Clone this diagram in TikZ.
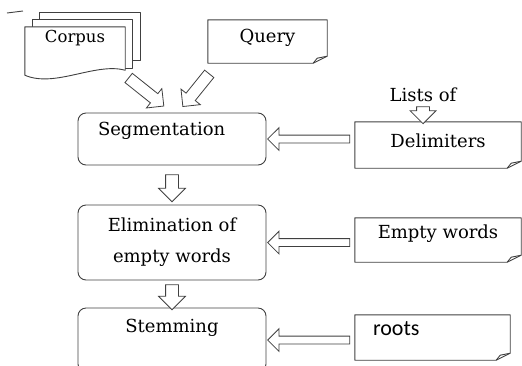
\documentclass[tikz,border=0pt]{standalone}
\usepackage{fontspec}
\setmainfont{DejaVu Serif}
\newfontfamily\rootsfont{Carlito}
\usetikzlibrary{shapes.arrows}

\newcommand{\docframe}[1]{%
  \draw[docline] (#1.north west) -- (#1.north east) -- ([yshift=7pt]#1.south east)
    -- ([xshift=-14pt]#1.south east) -- (#1.south west) -- cycle;
  \draw[docline] ([xshift=-14pt]#1.south east) -- ([xshift=-10pt,yshift=5pt]#1.south east)
    -- ([yshift=7pt]#1.south east);
}

\begin{document}
\begin{tikzpicture}[x=1pt, y=-1pt,
                    docline/.style={draw=black!75, line width=0.9pt, line join=round},
                    proc/.style={draw=black!75, line width=0.9pt, rounded corners=8pt, rectangle, minimum width=188pt, inner sep=0pt, font=\fontsize{18}{21}\selectfont},
                    doc/.style={rectangle, inner sep=0pt, font=\fontsize{18}{21}\selectfont},
                    hollow/.style={single arrow, draw=black!75, fill=white, line width=0.8pt, inner xsep=0pt, inner ysep=5.5pt, minimum width=24pt, single arrow head extend=6.5pt, sloped, allow upside down}]

	\useasboundingbox (0,0) rectangle (522,365);
	\clip (0,0) rectangle (522,365);

	\draw[docline] (7,13) -- (23,11);

	\node[doc, minimum width=100pt, minimum height=48pt, text height=12pt, text depth=30pt, font=\fontsize{16.5}{20}\selectfont] (corpus) at (75,51) {Corpus};

	\node[doc, minimum width=119pt, minimum height=43pt, text height=13pt, text depth=12pt] (query) at (267.5,41.5) {Query};

	\node[proc, minimum height=52pt, text width=148pt, inner xsep=20pt, align=left, text height=13pt, text depth=21pt] (seg) at (172,139) {Segmentation};

	\node[proc, minimum height=75pt, align=center] (elim) at (172,242.5) {Elimination of\\[10pt]empty words};

	\node[proc, minimum height=64pt, text height=13pt, text depth=29pt] (stem) at (172,340) {Stemming};

	\node[font=\fontsize{18}{21}\selectfont, inner sep=0pt] (lists) at (423,95) {Lists of};

	\node[doc, minimum width=166pt, minimum height=46pt, text height=13pt, text depth=9pt] (delim) at (438,145) {Delimiters};

	\node[doc, minimum width=166pt, minimum height=44pt, text height=13pt, text depth=17pt] (empty) at (438,240) {Empty words};

	\node[doc, minimum height=45pt, text width=119pt, inner xsep=18pt, align=left, text height=10pt, text depth=15pt, font=\rootsfont\fontsize{22}{26}\selectfont] (roots) at (432.5,337.5) {roots};

	% corpus pages
	\filldraw[docline, fill=white] ([xshift=15pt,yshift=14pt]corpus.north west) rectangle ([xshift=15pt,yshift=15pt]corpus.south east);
	\filldraw[docline, fill=white] ([xshift=8pt,yshift=7pt]corpus.north west) rectangle ([xshift=7pt,yshift=7pt]corpus.south east);
	\filldraw[docline, fill=white] (corpus.north west) -- (corpus.north east) -- ([yshift=5pt]corpus.south east)
		.. controls ([xshift=-30pt,yshift=13pt]corpus.south east) and ([xshift=30pt,yshift=-13pt]corpus.south west) .. (corpus.south west) -- cycle;
	\node[doc, minimum width=100pt, minimum height=48pt, text height=12pt, text depth=30pt, font=\fontsize{16.5}{20}\selectfont] at (corpus) {Corpus};

	\docframe{query}
	\docframe{delim}
	\docframe{empty}
	\docframe{roots}

	\path (corpus.south east) -- (seg.north) node[hollow, pos=0.4, minimum height=45pt] {};
	\path ([xshift=10pt]query.south west) -- ([xshift=6pt]seg.north) node[hollow, midway, minimum height=42pt] {};

	\path (seg.south) -- (elim.north) node[hollow, midway, minimum height=27pt, minimum width=26pt, inner ysep=6pt, single arrow head extend=7pt] {};
	\path (elim.south) -- (stem.north) node[hollow, midway, minimum height=25pt, minimum width=26pt, inner ysep=6pt, single arrow head extend=7pt] {};

	\path (lists.south) -- (lists.south |- delim.north) node[hollow, midway, minimum height=17pt, minimum width=25pt, inner ysep=6pt, single arrow head extend=6.5pt] {};

	\path (seg.east -| delim.west) -- (seg.east) node[hollow, midway, minimum height=82pt, minimum width=22pt, inner ysep=3.5pt, single arrow head extend=7.5pt] {};
	\path (elim.east -| empty.west) -- (elim.east) node[hollow, midway, minimum height=82pt, minimum width=22pt, inner ysep=3.5pt, single arrow head extend=7.5pt] {};
	\path (stem.east -| roots.west) -- (stem.east) node[hollow, midway, minimum height=82pt, minimum width=22pt, inner ysep=3.5pt, single arrow head extend=7.5pt] {};

\end{tikzpicture}
\end{document}
